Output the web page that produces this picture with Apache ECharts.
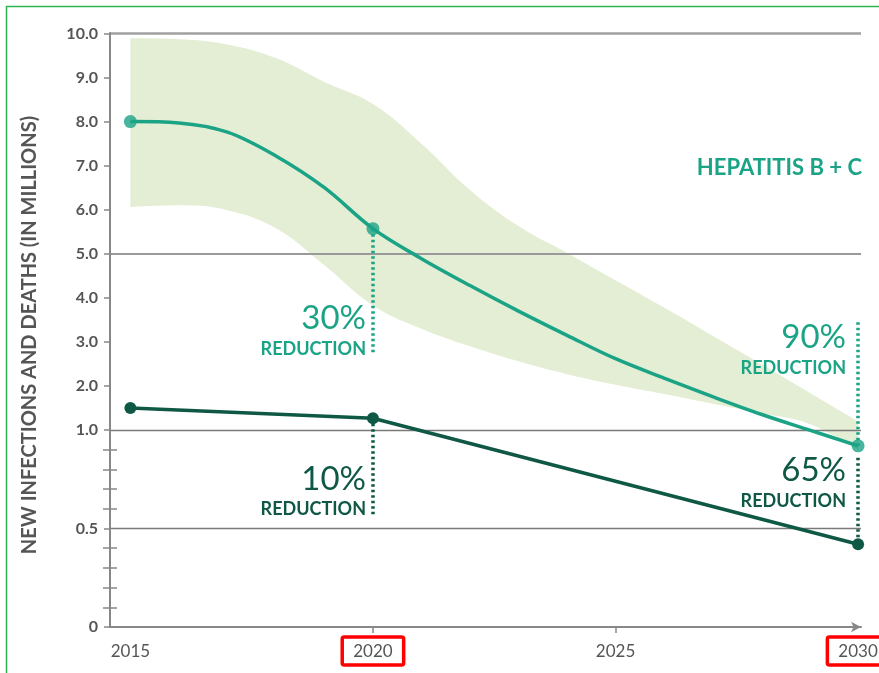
<!DOCTYPE html>
<html>
<head>
<meta charset="utf-8">
<script src="https://cdn.jsdelivr.net/npm/echarts@6/dist/echarts.min.js"></script>
<style>
html,body{margin:0;padding:0;background:#fff}
#chart{width:879px;height:673px}
</style>
</head>
<body>
<div id="chart"></div>
<script>
// data
var years = [2015, 2016, 2017, 2018, 2019, 2020, 2021, 2022, 2023, 2024, 2025, 2026, 2027, 2028, 2029, 2030];
var hepCurve = [8.0, 7.97, 7.76, 7.22, 6.5, 5.57, 4.89, 4.28, 3.7, 3.15, 2.62, 2.18, 1.76, 1.36, 1.0, 0.92];
var bandUpper = [9.89, 9.87, 9.75, 9.44, 8.9, 8.4, 7.5, 6.45, 5.63, 5.02, 4.4, 3.78, 3.14, 2.5, 1.85, 1.2];
var bandLower = [6.06, 6.1, 5.99, 5.58, 4.74, 3.83, 3.3, 2.9, 2.56, 2.27, 2.03, 1.82, 1.6, 1.38, 1.14, 0.9];
var keyYears = [2015, 2020, 2030];
var hepKey = [8.0, 5.57, 0.92];
var otherKey = [1.5, 1.27, 0.42];
var yTicks = [0, 0.5, 1, 2, 3, 4, 5, 6, 7, 8, 9, 10];
var yMinorTicks = [0.1, 0.2, 0.3, 0.4, 0.6, 0.7, 0.8, 0.9];
var xLabels = [2015, 2020, 2025, 2030];
var xTicks = [2020, 2025];
var boxedYears = [2020, 2030];
var gridValues = [10, 5, 1, 0.5];
// dotted reduction markers: [year, from, to]
var hepDrops = [[2020, 5.57, 2.75], [2030, 3.45, 0.92]];
var otherDrops = [[2020, 1.27, 0.56], [2030, 0.86, 0.42]];

var TEAL = '#1ba386';
var DARK = '#0f5846';
var GREY = '#555';
var BAND = '#e4eed4';

// the axis below 1.0 is stretched
var LOW = 197 / 44.1;
function sy(v) { return v <= 1 ? v * LOW : LOW + (v - 1); }

function yLabel(val) {
    for (var i = 0; i < yTicks.length; i++) {
        if (Math.abs(sy(yTicks[i]) - val) < 1e-6) return yTicks[i] === 0 ? '0' : yTicks[i].toFixed(1);
    }
    return '';
}

function dropLines(list) {
    return list.map(function (d) {
        return [{ coord: [d[0], sy(d[1])] }, { coord: [d[0], sy(d[2])] }];
    });
}

function gridLine(v) {
    var style = { color: '#7a7a7a', width: 1.3, type: 'solid' };
    if (v === 10) style = { color: '#a0a0a0', width: 2.5, type: 'solid' };
    if (v === 5) style = { color: '#9a9a9a', width: 2, type: 'solid' };
    return { yAxis: sy(v), lineStyle: style };
}

function txt(text, x, y, size, weight, color) {
    return {
        type: 'text', x: x, y: y, z: 10,
        style: {
            text: text, align: 'right', verticalAlign: 'middle',
            fontSize: size, fontWeight: weight, fontFamily: 'Lato', fill: color
        }
    };
}

var chart = echarts.init(document.getElementById('chart'));
var option = {
    animation: false,
    grid: { left: 110, right: 18, top: 33, bottom: 46, containLabel: false, outerBoundsMode: 'none' },
    xAxis: {
        type: 'value', min: 2014.58, max: 2030.06, z: 10,
        axisLine: { show: true, symbol: ['none', 'arrow'], symbolSize: [8, 10], lineStyle: { color: '#888', width: 2 } },
        axisTick: { show: true, customValues: xTicks, length: 6, lineStyle: { color: '#888', width: 1.5 } },
        axisLabel: {
            customValues: xLabels, margin: 10, color: GREY, fontSize: 17, fontFamily: 'Lato',
            formatter: function (v) {
                return boxedYears.indexOf(v) >= 0 ? '{box|' + v + '}' : '{plain|' + v + '}';
            },
            rich: {
                box: { borderColor: '#f00', borderWidth: 3.5, borderRadius: 2, padding: [6, 11, 5, 11], color: GREY, fontSize: 17, fontFamily: 'Lato' },
                plain: { padding: [6, 11, 5, 11], color: GREY, fontSize: 17, fontFamily: 'Lato' }
            }
        },
        splitLine: { show: false }
    },
    yAxis: [{
        type: 'value', min: 0, max: sy(10) + 0.01, z: 10,
        axisLine: { show: true, lineStyle: { color: '#888', width: 2 } },
        axisTick: { show: true, customValues: yTicks.map(sy), length: 6, lineStyle: { color: '#888', width: 1.5 } },
        axisLabel: {
            customValues: yTicks.map(sy), formatter: yLabel, margin: 12,
            color: GREY, fontSize: 16, fontWeight: 'bold', fontFamily: 'Lato'
        },
        splitLine: { show: false }
    }, {
        type: 'value', min: 0, max: sy(10) + 0.01, position: 'left', offset: -7,
        axisLine: { show: false },
        axisTick: { show: true, customValues: yMinorTicks.map(sy), length: 14, lineStyle: { color: '#888', width: 1.5 } },
        axisLabel: { show: false },
        splitLine: { show: false }
    }],
    series: [{
        // upper edge of the uncertainty band, filled down
        type: 'line', smooth: 0.4, symbol: 'none', silent: true, z: 1,
        lineStyle: { width: 0 },
        areaStyle: { color: BAND, opacity: 1 },
        data: years.map(function (y, i) { return [y, sy(bandUpper[i])]; })
    }, {
        // lower edge of the band, masks the fill below it
        type: 'line', smooth: 0.4, symbol: 'none', silent: true, z: 1,
        lineStyle: { width: 0 },
        areaStyle: { color: '#fff', opacity: 1 },
        data: years.map(function (y, i) { return [y, sy(bandLower[i])]; }),
        markLine: {
            z: 1.5, silent: true, symbol: ['none', 'none'], label: { show: false },
            lineStyle: { color: '#fff', width: 2, type: 'solid' },
            data: [[{ coord: [years[0], 0] }, { coord: [years[0], sy(bandLower[0]) - 0.05] }]]
        }
    }, {
        type: 'line', data: [], z: 2, silent: true, clip: false,
        markLine: {
            z: 2, silent: true, symbol: ['none', 'none'], label: { show: false },
            data: gridValues.map(gridLine)
        }
    }, {
        type: 'line', smooth: 0.35, symbol: 'none', z: 3,
        lineStyle: { color: TEAL, width: 3.5 },
        data: years.map(function (y, i) { return [y, sy(hepCurve[i])]; }),
        markLine: {
            z: 3, silent: true, symbol: ['none', 'none'], label: { show: false },
            lineStyle: { color: TEAL, width: 3.5, type: [2.5, 3] },
            data: dropLines(hepDrops)
        }
    }, {
        type: 'scatter', symbolSize: 13, z: 4,
        itemStyle: { color: TEAL },
        data: keyYears.map(function (y, i) { return [y, sy(hepKey[i])]; })
    }, {
        type: 'line', symbol: 'circle', symbolSize: 12, z: 4,
        lineStyle: { color: DARK, width: 3.5 },
        itemStyle: { color: DARK },
        data: keyYears.map(function (y, i) { return [y, sy(otherKey[i])]; }),
        markLine: {
            z: 3, silent: true, symbol: ['none', 'none'], label: { show: false },
            lineStyle: { color: DARK, width: 3.5, type: [2.5, 3] },
            data: dropLines(otherDrops)
        }
    }],
    graphic: [
        {
            type: 'rect', shape: { x: 6.5, y: 6.5, width: 1000, height: 1000 },
            style: { fill: 'none', stroke: '#2db34f', lineWidth: 1.5 }, silent: true
        },
        {
            type: 'text', x: 30, y: 335, rotation: Math.PI / 2, z: 10,
            style: {
                text: 'NEW INFECTIONS AND DEATHS (IN MILLIONS)', align: 'center', verticalAlign: 'middle',
                fontSize: 20, fontWeight: 'bold', fontFamily: 'Lato', fill: GREY
            }
        },
        txt('HEPATITIS B + C', 862, 168, 22, 'bold', TEAL),
        txt('30%', 366, 318, 33, 'normal', TEAL),
        txt('REDUCTION', 366, 349, 18, 'bold', TEAL),
        txt('10%', 366, 479, 33, 'normal', DARK),
        txt('REDUCTION', 366, 509, 18, 'bold', DARK),
        txt('90%', 846, 337, 33, 'normal', TEAL),
        txt('REDUCTION', 846, 368, 18, 'bold', TEAL),
        txt('65%', 846, 470, 33, 'normal', DARK),
        txt('REDUCTION', 846, 501, 18, 'bold', DARK)
    ]
};
chart.setOption(option);
</script>
</body>
</html>
